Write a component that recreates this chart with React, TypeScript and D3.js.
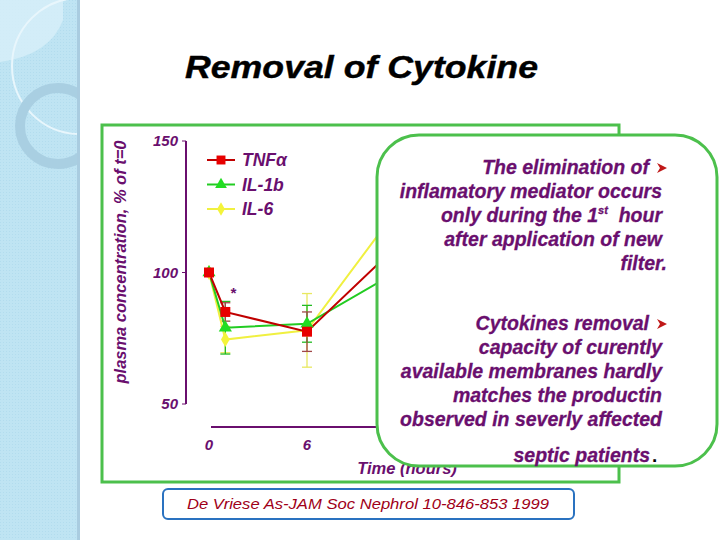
import React from "react";
import * as d3 from "d3";

const times = [0, 1, 6, 12];
const tnfValues = [100, 85, 77.5, 113];
const il1bValues = [100, 79, 80.5, 102];
const il6Values = [100, 74.5, 78, 128];
const tnfErr = [0, 3.5, 7.5, 0];
const il1bErr = [0, 10, 7, 0];
const il6Err = [0, 5, 14, 0];
const yTicks = [50, 100, 150];
const xTicks = [0, 6];
const seriesNames = ["TNF\u03b1", "IL-1b", "IL-6"];

const PURPLE = "#6a0f6e";
const FONT = "'Liberation Sans', Arial, sans-serif";

const para1 = [
  "The elimination of",
  "inflamatory mediator occurs",
  "only during the 1st  hour",
  "after application of new",
  "filter.",
];
const para2 = [
  "Cytokines removal",
  "capacity of curently",
  "available membranes hardly",
  "matches the productin",
  "observed in severly affected",
];

export default function App() {
  const x = d3.scaleLinear().domain([0, 24]).range([209, 601]);
  const y = d3.scaleLinear().domain([50, 150]).range([404, 141]);

  const series = [
    { name: seriesNames[0], vals: tnfValues, err: tnfErr, color: "#e80000", line: "#c00000", errColor: "#a04848", sym: d3.symbolSquare, size: 100 },
    { name: seriesNames[1], vals: il1bValues, err: il1bErr, color: "#22dd22", line: "#22cc22", errColor: "#22bb22", sym: d3.symbolTriangle, size: 75 },
    { name: seriesNames[2], vals: il6Values, err: il6Err, color: "#f4f43a", line: "#f0f040", errColor: "#e8e860", sym: d3.symbolDiamond, size: 65 },
  ];

  const lineGen = d3.line<number>().x((_, i) => x(times[i])).y((v) => y(v));
  const order = [2, 1, 0];

  const arrow = (cx: number, cy: number) => (
    <path d={`M${cx - 5},${cy - 5} L${cx + 5},${cy} L${cx - 5},${cy + 5} L${cx - 2},${cy} Z`} fill="#c01818" />
  );

  return (
    <svg width={720} height={540} style={{ position: "absolute", left: 0, top: 0 }} fontFamily={FONT}>
      <rect x={0} y={0} width={720} height={540} fill="#ffffff" />
      {/* left decoration */}
      <defs>
        <pattern id="dots" width={3} height={3} patternUnits="userSpaceOnUse">
          <rect width={3} height={3} fill="#bfe4f3" />
          <rect width={1} height={1} fill="#b2dcee" />
        </pattern>
        <clipPath id="leftclip">
          <rect x={0} y={0} width={78} height={540} />
        </clipPath>
      </defs>
      <rect x={0} y={0} width={78} height={540} fill="url(#dots)" />
      <g clipPath="url(#leftclip)">
        <path d="M0,0 H63 V20 Q50,55 0,62 Z" fill="#d6eef8" opacity={0.85} />
        <circle cx={80} cy={66} r={68} fill="none" stroke="#e8f6fc" strokeWidth={2} />
        <circle cx={58} cy={126} r={38} fill="none" stroke="#a9cfe2" strokeWidth={10} />
      </g>
      <rect x={77} y={0} width={3} height={540} fill="#a9cce0" />

      {/* title */}
      <text x={185} y={78} fontSize={31} fontWeight="bold" fontStyle="italic" fill="#000" stroke="#000" strokeWidth={0.4} textLength={353} lengthAdjust="spacingAndGlyphs">
        Removal of Cytokine
      </text>

      {/* chart frame */}
      <rect x={102} y={125} width={517} height={357} fill="#fff" stroke="#4cc04c" strokeWidth={3} />

      {/* y axis */}
      <line x1={186} x2={186} y1={y(150)} y2={y(50)} stroke={PURPLE} strokeWidth={2} />
      {yTicks.map((t) => (
        <g key={t}>
          <line x1={182} x2={186} y1={y(t)} y2={y(t)} stroke={PURPLE} strokeWidth={1} />
          <text x={178} y={y(t) + 5} textAnchor="end" fontSize={15} fontWeight="bold" fontStyle="italic" fill={PURPLE}>
            {t}
          </text>
        </g>
      ))}
      <text
        transform={`translate(126,262) rotate(-90)`}
        textAnchor="middle"
        fontSize={16}
        fontWeight="bold"
        fontStyle="italic"
        fill={PURPLE}
        textLength={243}
        lengthAdjust="spacingAndGlyphs"
      >
        plasma concentration, % of t=0
      </text>

      {/* x axis */}
      <line x1={211} x2={x(24)} y1={427} y2={427} stroke={PURPLE} strokeWidth={2} />
      {xTicks.map((t) => (
        <text key={t} x={x(t)} y={450} textAnchor="middle" fontSize={15} fontWeight="bold" fontStyle="italic" fill={PURPLE}>
          {t}
        </text>
      ))}
      <text x={407} y={474} textAnchor="middle" fontSize={16.5} fontWeight="bold" fontStyle="italic" fill={PURPLE}>
        Time (hours)
      </text>

      {/* error bars */}
      {order.map((si) => {
        const s = series[si];
        return (
          <g key={"e" + si}>
            {s.vals.map((v, i) =>
              s.err[i] > 0 ? (
                <g key={i} stroke={s.errColor} strokeWidth={1.3}>
                  <line x1={x(times[i])} x2={x(times[i])} y1={y(v + s.err[i])} y2={y(v - s.err[i])} />
                  <line x1={x(times[i]) - 5} x2={x(times[i]) + 5} y1={y(v + s.err[i])} y2={y(v + s.err[i])} />
                  <line x1={x(times[i]) - 5} x2={x(times[i]) + 5} y1={y(v - s.err[i])} y2={y(v - s.err[i])} />
                </g>
              ) : null
            )}
          </g>
        );
      })}

      {/* lines */}
      {order.map((si) => {
        const s = series[si];
        return <path key={"l" + si} d={lineGen(s.vals) || ""} fill="none" stroke={s.line} strokeWidth={2} />;
      })}
      {/* markers */}
      {order.map((si) => {
        const s = series[si];
        const p = d3.symbol().type(s.sym).size(s.size)();
        return (
          <g key={"m" + si}>
            {s.vals.map((v, i) => (
              <path key={i} d={p || ""} transform={`translate(${x(times[i])},${y(v)})`} fill={s.color} />
            ))}
          </g>
        );
      })}
      <text x={233} y={298} textAnchor="middle" fontSize={15} fontWeight="bold" fontStyle="italic" fill={PURPLE}>
        *
      </text>

      {/* legend */}
      {series.map((s, i) => {
        const ly = 160 + i * 24.5;
        const p = d3.symbol().type(s.sym).size(s.size * 0.8)();
        return (
          <g key={"lg" + i}>
            <line x1={207} x2={235} y1={ly} y2={ly} stroke={s.line} strokeWidth={2} />
            <path d={p || ""} transform={`translate(221,${ly})`} fill={s.color} />
            <text x={242} y={ly + 6} fontSize={17.5} fontWeight="bold" fontStyle="italic" fill={PURPLE}>
              {s.name}
            </text>
          </g>
        );
      })}

      {/* text box */}
      <rect x={377} y={135} width={340} height={331} rx={42} ry={42} fill="#fff" stroke="#4cc04c" strokeWidth={3} />
      <g fontSize={19.5} fontWeight="bold" fontStyle="italic" fill={PURPLE} stroke={PURPLE} strokeWidth={0.3} textAnchor="end">
        <text x={649} y={174}>{para1[0]}</text>
        <text x={662} y={198}>{para1[1]}</text>
        <text x={662} y={222}>
          only during the 1<tspan fontSize={11} dy={-8}>st</tspan>
          <tspan dy={8}>{"\u00a0\u00a0hour"}</tspan>
        </text>
        <text x={662} y={246}>{para1[3]}</text>
        <text x={667} y={270}>{para1[4]}</text>

        <text x={649} y={330}>{para2[0]}</text>
        {para2.slice(1).map((l, i) => (
          <text key={i} x={662} y={354 + i * 24}>
            {l}
          </text>
        ))}
        <text x={650} y={462}>septic patients</text>
      </g>
      {arrow(662, 168)}
      {arrow(662, 324)}
      <text x={652} y={462} fontSize={19} fontWeight="bold" fill="#000">.</text>

      {/* citation */}
      <rect x={163} y={489} width={411} height={30} rx={5} ry={5} fill="#fff" stroke="#2a72c0" strokeWidth={2} />
      <text x={187} y={509} fontSize={15.5} fontStyle="italic" fill="#a00018" textLength={362} lengthAdjust="spacingAndGlyphs">
        De Vriese As-JAM Soc Nephrol 10-846-853 1999
      </text>
    </svg>
  );
}
